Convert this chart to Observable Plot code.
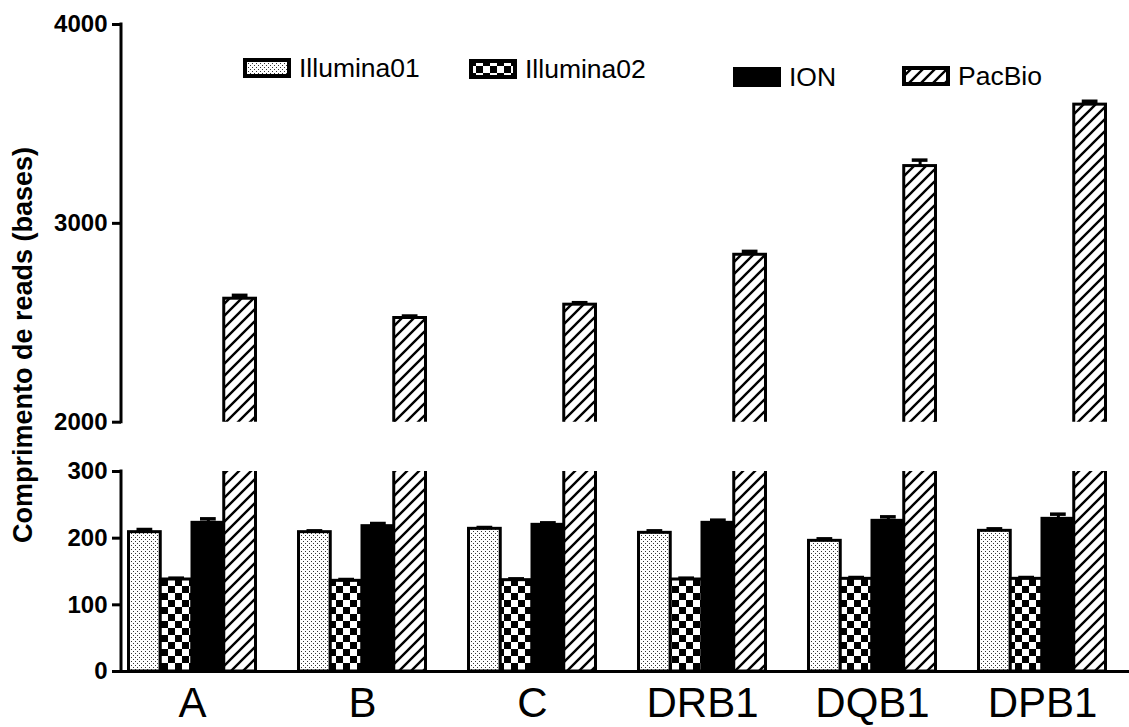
<!DOCTYPE html>
<html><head><meta charset="utf-8">
<script src="https://cdn.jsdelivr.net/npm/d3@7"></script>
<script src="https://cdn.jsdelivr.net/npm/@observablehq/plot@0.6"></script>
<style>
body{margin:0;background:#fff;font-family:"Liberation Sans",Arial,sans-serif;}
#wrap{position:relative;width:1129px;height:727px;overflow:hidden;background:#fff;}
.panel{position:absolute;left:0;}
.leg{position:absolute;display:flex;align-items:center;font-size:26.5px;line-height:20px;height:20px;color:#000;white-space:nowrap;}
.leg svg{margin-right:8px;flex:none;}
#ylab{position:absolute;left:23px;top:345px;transform:translate(-50%,-50%) rotate(-90deg);white-space:nowrap;font-size:27px;font-weight:bold;}
</style></head><body>
<svg width="0" height="0" style="position:absolute">
<defs>
<pattern id="dots" patternUnits="userSpaceOnUse" width="4" height="4"><rect width="4" height="4" fill="#fff"/><rect x="1" y="1" width="1" height="1" fill="#333"/><rect x="3" y="3" width="1" height="1" fill="#333"/></pattern>
<pattern id="checker" patternUnits="userSpaceOnUse" width="14" height="14"><rect width="14" height="14" fill="#fff"/><rect width="7" height="7" fill="#000"/><rect x="7" y="7" width="7" height="7" fill="#000"/></pattern>
<pattern id="hatch" patternUnits="userSpaceOnUse" width="12" height="12"><rect width="12" height="12" fill="#fff"/><path d="M-3,3L3,-3M0,12L12,0M9,15L15,9" stroke="#000" stroke-width="2.4"/></pattern>
</defs></svg>
<div id="wrap"><div id="ylab"></div></div>
<script>
// ---- data ----
const categories = ["A", "B", "C", "DRB1", "DQB1", "DPB1"];
const seriesNames = ["Illumina01", "Illumina02", "ION", "PacBio"];
const illumina01 = [209, 209, 214, 208, 196, 211];
const illumina01Err = [4, 2, 2, 3, 3, 3];
const illumina02 = [138, 136, 137, 138, 139, 139];
const illumina02Err = [2, 2, 2, 2, 2, 2];
const ion = [223, 218, 220, 223, 226, 229];
const ionErr = [6, 4, 3, 4, 6, 7];
const pacbio = [2621, 2524, 2591, 2842, 3288, 3597];
const pacbioErr = [17, 10, 10, 17, 30, 17];
const upperTicks = [2000, 3000, 4000];
const lowerTicks = [0, 100, 200, 300];
const yLabel = "Comprimento de reads (bases)";

// ---- styling / layout ----
const fills = ["url(#dots)", "url(#checker)", "#000", "url(#hatch)"];
const legendPos = [[243, 58], [469, 59], [733, 67], [902, 66]];
const values = [illumina01, illumina02, ion, pacbio];
const errs = [illumina01Err, illumina02Err, ionErr, pacbioErr];
const rows = seriesNames.map((s, i) => categories.map((c, j) => ({category: c, series: s, value: values[i][j], err: errs[i][j]})));

const W = 1129;
const groupW = 127, BW = groupW / 4;
const xOpts = {domain: categories, paddingInner: 43 / 170, paddingOuter: 0.0912, align: 0.242, round: false, axis: null};
const font = {fontFamily: "Liberation Sans, Arial, sans-serif", color: "#000", background: "transparent", overflow: "visible"};

function bars(i, clip) {
  return Plot.barY(rows[i], {x: "category", y1: 0, y2: "value", fill: fills[i], stroke: "#000", strokeWidth: 3,
    insetLeft: i * BW, insetRight: (3 - i) * BW, clip});
}
function errorBars(i) {
  return [
    Plot.ruleX(rows[i], {x: "category", y1: "value", y2: d => d.value + d.err, dx: (i - 1.5) * BW, stroke: "#000", strokeWidth: 3}),
    Plot.tickY(rows[i], {x: "category", y: d => d.value + d.err, insetLeft: i * BW + 8, insetRight: (3 - i) * BW + 8, stroke: "#000", strokeWidth: 3.5})
  ];
}
const yAxis = ticks => Plot.axisY({ticks, tickFormat: d => String(d), tickSize: 9, tickPadding: 5, strokeWidth: 3,
  fontSize: 24, fontWeight: "bold", label: null});
// vertical axis line drawn with the plot's own y scale
function axisLine(lo, hi) {
  return (index, scales, values, dims) => {
    const l = document.createElementNS("http://www.w3.org/2000/svg", "line");
    const x = dims.marginLeft;
    l.setAttribute("x1", x); l.setAttribute("x2", x);
    l.setAttribute("y1", scales.y(lo) + 1.5); l.setAttribute("y2", scales.y(hi) - 1.5);
    l.setAttribute("stroke", "#000"); l.setAttribute("stroke-width", 3);
    return l;
  };
}

const H1 = 446;
const upper = Plot.plot({
  width: W, height: H1, marginLeft: 121, marginRight: 0, marginTop: 24, marginBottom: H1 - 421.7,
  style: font,
  x: xOpts,
  y: {domain: [2000, 4000], axis: null},
  marks: [
    yAxis(upperTicks),
    axisLine(upperTicks[0], upperTicks[upperTicks.length - 1]),
    bars(3, true),
    ...errorBars(3)
  ]
});
const H2 = 281;
const lower = Plot.plot({
  width: W, height: H2, marginLeft: 121, marginRight: 0, marginTop: 25, marginBottom: 56,
  style: font,
  x: xOpts,
  y: {domain: [0, 300], axis: null},
  marks: [
    yAxis(lowerTicks),
    axisLine(lowerTicks[0], lowerTicks[lowerTicks.length - 1]),
    Plot.axisX({tickSize: 0, tickPadding: 16, fontSize: 42, label: null}),
    bars(0, false), bars(1, false), bars(2, false), bars(3, true),
    ...errorBars(0), ...errorBars(1), ...errorBars(2),
    Plot.ruleY([0], {stroke: "#000", strokeWidth: 3})
  ]
});
const wrap = document.getElementById("wrap");
upper.classList.add("panel"); upper.style.top = "0px";
lower.classList.add("panel"); lower.style.top = H1 + "px";
wrap.appendChild(upper); wrap.appendChild(lower);
document.getElementById("ylab").textContent = yLabel;

// legend
seriesNames.forEach((s, i) => {
  const d = document.createElement("div");
  d.className = "leg";
  d.style.left = legendPos[i][0] + "px"; d.style.top = legendPos[i][1] + "px";
  d.innerHTML = `<svg width="48" height="20"><rect x="2" y="2" width="44" height="16" fill="${fills[i]}" stroke="#000" stroke-width="4"/></svg>`;
  d.appendChild(document.createTextNode(s));
  wrap.appendChild(d);
});
</script>
</body></html>
